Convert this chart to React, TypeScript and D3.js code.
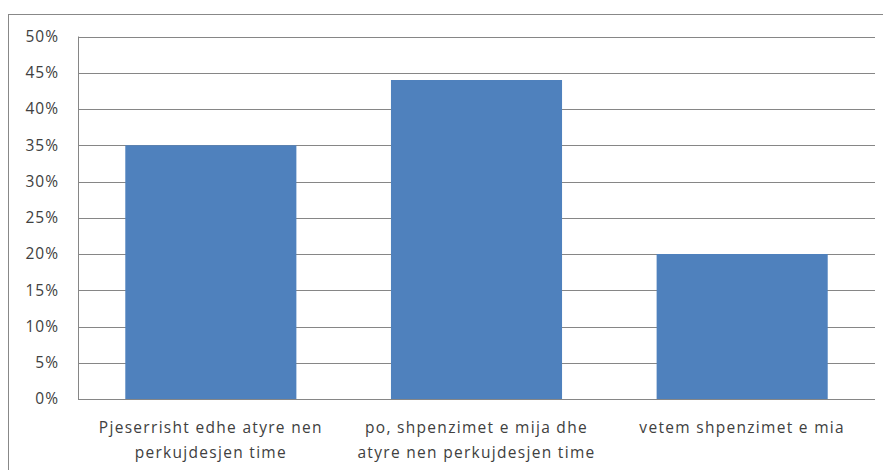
import React from "react";
import * as d3 from "d3";

const categories = [
  ["Pjeserrisht edhe atyre nen", "perkujdesjen time"],
  ["po, shpenzimet e mija dhe", "atyre nen perkujdesjen time"],
  ["vetem shpenzimet e mia"],
];
const values = [0.35, 0.44, 0.2];
const ticks = [0, 0.05, 0.1, 0.15, 0.2, 0.25, 0.3, 0.35, 0.4, 0.45, 0.5];

export default function App() {
  const W = 883, H = 470;
  const left = 78, right = 875, top = 36.5, bottom = 399;
  const x = d3.scaleBand<number>().domain(values.map((_, i) => i)).range([left, right]).paddingInner(0.356).paddingOuter(0.178);
  const y = d3.scaleLinear().domain([0, 0.5]).range([bottom, top]);
  const font = "'Open Sans', 'Segoe UI', sans-serif";
  return (
    <svg width={W} height={H} style={{ position: "absolute", left: 0, top: 0 }}>
      <rect x={0} y={0} width={W} height={H} fill="#fff" />
      <rect x={8.5} y={14.5} width={W} height={H} fill="none" stroke="#888" strokeWidth={1} />
      {ticks.map((t) => (
        <g key={t}>
          <line x1={left} x2={right} y1={Math.round(y(t)) + 0.5} y2={Math.round(y(t)) + 0.5} stroke="#868686" strokeWidth={1} />
          <text x={59} y={y(t)} dy="0.35em" textAnchor="end" fontSize={15.5} letterSpacing={1} fontFamily={font} fill="#404040">
            {d3.format(".0%")(t)}
          </text>
        </g>
      ))}
      <line x1={left + 0.5} x2={left + 0.5} y1={top} y2={bottom} stroke="#868686" />
      {values.map((v, i) => (
        <rect key={i} x={x(i)} y={y(v)} width={x.bandwidth()} height={bottom - y(v)} fill="#4F81BD" />
      ))}
      {categories.map((lines, i) => (
        <text key={i} textAnchor="middle" fontSize={15.5} letterSpacing={1.3} fontFamily={font} fill="#404040">
          {lines.map((l, j) => (
            <tspan key={j} x={(x(i) as number) + x.bandwidth() / 2} y={433 + j * 25}>
              {l}
            </tspan>
          ))}
        </text>
      ))}
    </svg>
  );
}
